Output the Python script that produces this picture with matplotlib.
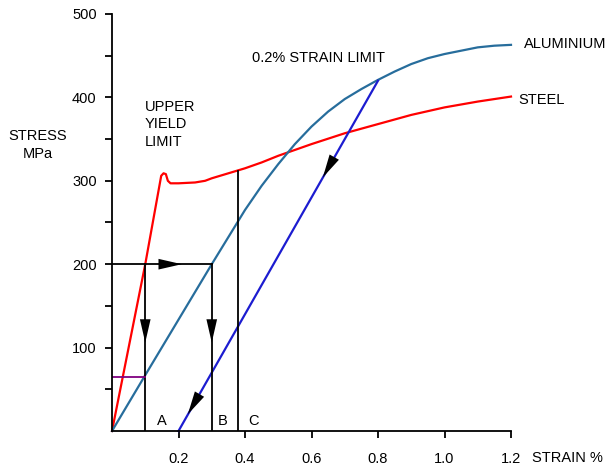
import matplotlib.pyplot as plt
import numpy as np

plt.rcParams['font.family'] = ['Liberation Sans', 'DejaVu Sans']

# steel curve (strain %, stress MPa)
steel_strain = [0, 0.1, 0.148, 0.155, 0.162, 0.168, 0.176, 0.2, 0.25, 0.28, 0.3, 0.35,
                0.4, 0.45, 0.5, 0.6, 0.7, 0.8, 0.9, 1.0, 1.1, 1.2]
steel_stress = [0, 200, 306, 309, 308, 300, 297, 297, 298, 300, 303, 309,
                315, 322, 330, 344, 357, 368, 379, 388, 395, 401]

# aluminium curve
alu_strain = [0, 0.1, 0.3, 0.4, 0.45, 0.5, 0.55, 0.6, 0.65, 0.7, 0.75, 0.8,
              0.85, 0.9, 0.95, 1.0, 1.05, 1.1, 1.15, 1.2]
alu_stress = [0, 67, 200, 265, 294, 320, 344, 365, 383, 398, 410, 421,
              431, 440, 447, 452, 456, 460, 462, 463]

# 0.2 % offset line
offset_strain = [0.2, 0.8]
offset_stress = [0, 420]

# construction lines
load_stress = 200
strain_a, strain_b, strain_c = 0.1, 0.3, 0.38
top_c = 312
alu_at_a = 65

x_ticks = [0.2, 0.4, 0.6, 0.8, 1.0, 1.2]
x_labels = ['0.2', '0.4', '0.6', '0.8', '1.0', '1.2']
y_ticks = [100, 200, 300, 400, 500]

fig = plt.figure(figsize=(6.07, 4.68), dpi=100)
ax = fig.add_axes([112/607, 1-431/468, (511-112)/607, (431-14)/468])
ax.set_xlim(0, 1.2)
ax.set_ylim(0, 500)

ax.spines['top'].set_visible(False)
ax.spines['right'].set_visible(False)
for s in ('left', 'bottom'):
    ax.spines[s].set_linewidth(1.3)

ax.set_xticks(x_ticks)
ax.set_xticklabels(x_labels)
ax.set_yticks(y_ticks)
ax.set_yticks(np.arange(50, 500, 100), minor=True)
ax.tick_params(axis='both', which='both', direction='out', length=5, width=1.3,
               labelsize=10.5, colors='k')
ax.tick_params(axis='x', pad=10)
ax.tick_params(axis='y', pad=6)

lw = 1.6
ax.plot(steel_strain, steel_stress, color='#ff0000', lw=lw, clip_on=False)
ax.plot(alu_strain, alu_stress, color='#276d9c', lw=lw, clip_on=False)
ax.plot(offset_strain, offset_stress, color='#1c1cd0', lw=lw, clip_on=False)

# black construction lines
ax.plot([0, strain_b], [load_stress, load_stress], color='k', lw=1.3)
ax.plot([strain_a, strain_a], [0, load_stress], color='k', lw=1.3)
ax.plot([strain_b, strain_b], [0, load_stress], color='k', lw=1.3)
ax.plot([strain_c, strain_c], [0, top_c], color='k', lw=1.3)
ax.plot([0, strain_a], [alu_at_a, alu_at_a], color='#800080', lw=1.3)

# arrowheads
arrows = [((0.14, 200), (0.21, 200)),
          ((0.1, 135), (0.1, 106)),
          ((0.3, 135), (0.3, 106)),
          ((0.273, 51), (0.228, 20)),
          ((0.675, 333), (0.634, 304))]
for tail, head in arrows:
    ax.annotate('', xy=head, xytext=tail,
                arrowprops=dict(arrowstyle='-|>,head_length=1.4,head_width=0.32',
                                mutation_scale=12, color='k', lw=0,
                                shrinkA=0, shrinkB=0))

fs = 10.5
ax.text(0.135, 4, 'A', fontsize=fs, va='bottom')
ax.text(0.318, 4, 'B', fontsize=fs, va='bottom')
ax.text(0.41, 4, 'C', fontsize=fs, va='bottom')

fig.text(38/607, 1-145/468, 'STRESS\nMPa', fontsize=fs, ha='center', va='center',
         linespacing=1.4)
fig.text(145/607, 1-100/468, 'UPPER\nYIELD\nLIMIT', fontsize=fs, ha='left', va='top',
         linespacing=1.3)
fig.text(252/607, 1-58/468, '0.2% STRAIN LIMIT', fontsize=fs, ha='left', va='center')
fig.text(524/607, 1-44/468, 'ALUMINIUM', fontsize=fs, ha='left', va='center')
fig.text(518/607, 1-100/468, 'STEEL', fontsize=fs, ha='left', va='center')
fig.text(532/607, 1-458/468, 'STRAIN %', fontsize=fs, ha='left', va='center')

fig.savefig('out.png', dpi=100)
